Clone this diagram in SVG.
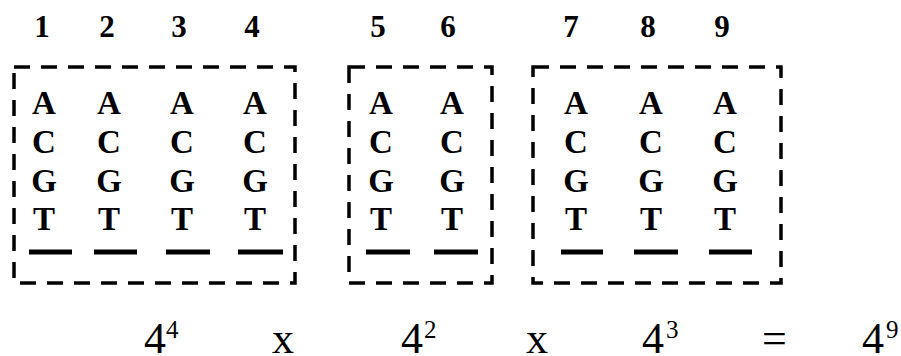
<svg xmlns="http://www.w3.org/2000/svg" width="901" height="356" viewBox="0 0 901 356">
<style>
.box{fill:none;stroke:#000;stroke-width:3.5;stroke-dasharray:16 11}
.num{font-family:"Liberation Serif","Times New Roman",serif;font-weight:bold;font-size:31px;text-anchor:middle;fill:#000}
.nt{font-family:"Liberation Serif","Times New Roman",serif;font-weight:bold;font-size:33px;text-anchor:middle;fill:#000}
.bar{stroke:#000;stroke-width:5}
.eq{font-family:"Liberation Serif","Times New Roman",serif;font-size:44px;fill:#000}
.sup{font-family:"Liberation Serif","Times New Roman",serif;font-size:25px;fill:#000}
</style>
<rect width="901" height="356" fill="#fff"/>
<g id="numbers">
<text class="num" x="42" y="37">1</text>
<text class="num" x="107" y="37">2</text>
<text class="num" x="179" y="37">3</text>
<text class="num" x="252" y="37">4</text>
<text class="num" x="378" y="37">5</text>
<text class="num" x="448" y="37">6</text>
<text class="num" x="571" y="37">7</text>
<text class="num" x="648" y="37">8</text>
<text class="num" x="722" y="37">9</text>
</g>
<g id="box1">
<rect class="box" x="14" y="67" width="281" height="216"/>
</g>
<g id="box2">
<rect class="box" x="349" y="67" width="143" height="216"/>
</g>
<g id="box3">
<rect class="box" x="533" y="67" width="248" height="216"/>
</g>
<g id="columns">
<g id="col1"><text class="nt" x="44" y="114">A</text><text class="nt" x="44" y="153">C</text><text class="nt" x="44" y="192">G</text><text class="nt" x="44" y="230">T</text><line class="bar" x1="29" y1="252" x2="72" y2="252"/></g>
<g id="col2"><text class="nt" x="109" y="114">A</text><text class="nt" x="109" y="153">C</text><text class="nt" x="109" y="192">G</text><text class="nt" x="109" y="230">T</text><line class="bar" x1="94" y1="252" x2="137" y2="252"/></g>
<g id="col3"><text class="nt" x="182" y="114">A</text><text class="nt" x="182" y="153">C</text><text class="nt" x="182" y="192">G</text><text class="nt" x="182" y="230">T</text><line class="bar" x1="166" y1="252" x2="210" y2="252"/></g>
<g id="col4"><text class="nt" x="255" y="114">A</text><text class="nt" x="255" y="153">C</text><text class="nt" x="255" y="192">G</text><text class="nt" x="255" y="230">T</text><line class="bar" x1="238" y1="252" x2="283" y2="252"/></g>
<g id="col5"><text class="nt" x="381" y="114">A</text><text class="nt" x="381" y="153">C</text><text class="nt" x="381" y="192">G</text><text class="nt" x="381" y="230">T</text><line class="bar" x1="366" y1="252" x2="410" y2="252"/></g>
<g id="col6"><text class="nt" x="452" y="114">A</text><text class="nt" x="452" y="153">C</text><text class="nt" x="452" y="192">G</text><text class="nt" x="452" y="230">T</text><line class="bar" x1="434" y1="252" x2="478" y2="252"/></g>
<g id="col7"><text class="nt" x="576" y="114">A</text><text class="nt" x="576" y="153">C</text><text class="nt" x="576" y="192">G</text><text class="nt" x="576" y="230">T</text><line class="bar" x1="561" y1="252" x2="603" y2="252"/></g>
<g id="col8"><text class="nt" x="651" y="114">A</text><text class="nt" x="651" y="153">C</text><text class="nt" x="651" y="192">G</text><text class="nt" x="651" y="230">T</text><line class="bar" x1="634" y1="252" x2="678" y2="252"/></g>
<g id="col9"><text class="nt" x="725" y="114">A</text><text class="nt" x="725" y="153">C</text><text class="nt" x="725" y="192">G</text><text class="nt" x="725" y="230">T</text><line class="bar" x1="709" y1="252" x2="752" y2="252"/></g>
</g>
<g id="equation">
<text class="eq" x="144" y="353">4</text><text class="sup" x="166" y="338">4</text>
<text class="eq" x="272" y="353">x</text>
<text class="eq" x="401" y="353">4</text><text class="sup" x="424" y="338">2</text>
<text class="eq" x="526" y="353">x</text>
<text class="eq" x="642" y="353">4</text><text class="sup" x="666" y="338">3</text>
<text class="eq" x="762" y="353">=</text>
<text class="eq" x="862" y="353">4</text><text class="sup" x="886" y="338">9</text>
</g>
</svg>
